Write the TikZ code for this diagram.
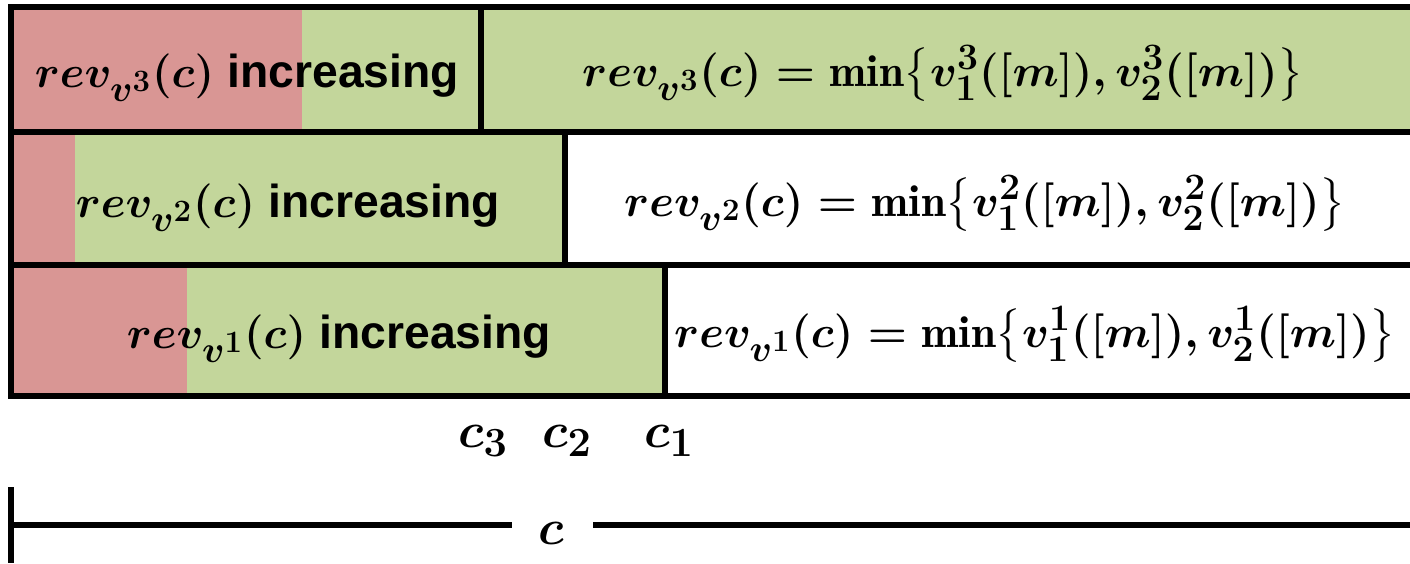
\documentclass[tikz,border=0pt]{standalone}
\usepackage{amsmath}
\usepackage{fontspec}
\newfontfamily\sansb{Liberation Sans}
\definecolor{redc}{HTML}{D99694}
\definecolor{greenc}{HTML}{C3D69B}
\newcommand{\incr}{{\sansb\bfseries\fontsize{25.7}{30}\selectfont increasing}}
\begin{document}
\begin{tikzpicture}[x=1pt,y=-1pt,
  bl/.style={line width=5.5pt,black},
  lbl/.style={anchor=base,inner sep=0pt,scale=1.8,font=\Huge\boldmath},
  ml/.style={anchor=base,inner sep=0pt,scale=1.8,font=\Huge\boldmath},
  cl/.style={anchor=base,inner sep=0pt,scale=2.0,font=\Huge\boldmath}]
\useasboundingbox (0,0) rectangle (1410,563);
\fill[redc] (11,7) rectangle (302,132);
\fill[greenc] (302,7) rectangle (1410,132);
\fill[redc] (11,132) rectangle (75,265);
\fill[greenc] (75,132) rectangle (565,265);
\fill[redc] (11,265) rectangle (187,396);
\fill[greenc] (187,265) rectangle (665,396);
\draw[bl] (1410,7) -- (11,7) -- (11,396) -- (1410,396);
\draw[bl] (11,132) -- (1410,132);
\draw[bl] (11,265) -- (1410,265);
\draw[bl] (481,7) -- (481,132);
\draw[bl] (565,132) -- (565,265);
\draw[bl] (665,265) -- (665,396);
\node[lbl] (l3) at (247,87) {$rev_{v^3}(c)$ \incr};
\node[lbl] (l2) at (288,217) {$rev_{v^2}(c)$ \incr};
\node[lbl] (l1) at (339,348) {$rev_{v^1}(c)$ \incr};
\node[ml] (r3) at (943,86) {$rev_{v^3}(c)=\min\bigl\{v^3_1([m]),v^3_2([m])\bigr\}$};
\node[ml] (r2) at (985,216) {$rev_{v^2}(c)=\min\bigl\{v^2_1([m]),v^2_2([m])\bigr\}$};
\node[ml] (r1) at (1035,347) {$rev_{v^1}(c)=\min\bigl\{v^1_1([m]),v^1_2([m])\bigr\}$};
\node[cl] (c3) at (483,447) {$c_3$};
\node[cl] (c2) at (567,447) {$c_2$};
\node[cl] (c1) at (669,447) {$c_1$};
\node[cl] (cc) at (551,544) {$c$};
\coordinate (tt) at (11,487);
\coordinate (tb) at (11,563);
\coordinate (la) at (11,525);
\coordinate (lb) at (512,525);
\coordinate (ra) at (593,525);
\coordinate (rb) at (1410,525);
\draw[bl] (tt) -- (tb);
\draw[bl] (la) -- (lb);
\draw[bl] (ra) -- (rb);
\end{tikzpicture}
\end{document}
